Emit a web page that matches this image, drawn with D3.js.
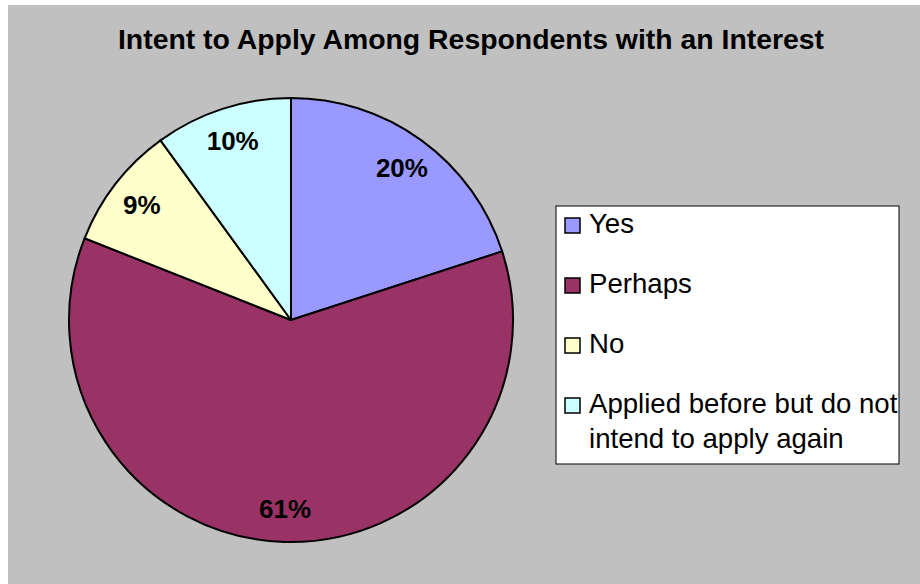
<!DOCTYPE html>
<html>
<head>
<meta charset="utf-8">
<script src="https://cdn.jsdelivr.net/npm/d3@7"></script>
<style>
  html, body { margin: 0; padding: 0; background: #ffffff; }
  svg { display: block; }
  text { font-family: "Liberation Sans", Arial, sans-serif; }
</style>
</head>
<body>
<svg id="chart" width="920" height="584"></svg>
<script>
const title = "Intent to Apply Among Respondents with an Interest";
const categories = ["Yes", "Perhaps", "No", "Applied before but do not intend to apply again"];
const legendLines = [["Yes"], ["Perhaps"], ["No"], ["Applied before but do not", "intend to apply again"]];
const values = [20, 61, 9, 10];
const colors = ["#9999FF", "#993366", "#FFFFCC", "#CCFFFF"];

const W = 920, H = 584;
const svg = d3.select("#chart");

// chart area background
svg.append("rect").attr("x", 8).attr("y", 5).attr("width", W - 8).attr("height", H - 5)
  .attr("fill", "#C0C0C0");

// title
svg.append("text").attr("x", 471).attr("y", 49).attr("text-anchor", "middle")
  .attr("font-size", 28.4).attr("font-weight", "bold").attr("fill", "#000")
  .text(title);

// pie
const cx = 291, cy = 320, R = 222;
const pie = d3.pie().sort(null).value(d => d)(values);
const arc = d3.arc().innerRadius(0).outerRadius(R);
const labelArc = d3.arc().innerRadius(R * 0.85).outerRadius(R * 0.85);
const total = d3.sum(values);

const g = svg.append("g").attr("transform", `translate(${cx},${cy})`);
g.selectAll("path.slice").data(pie).enter().append("path")
  .attr("class", "slice")
  .attr("d", arc)
  .attr("fill", (d, i) => colors[i])
  .attr("stroke", "#000").attr("stroke-width", 2).attr("stroke-linejoin", "round");

g.selectAll("text.lbl").data(pie).enter().append("text")
  .attr("class", "lbl")
  .attr("transform", d => `translate(${labelArc.centroid(d)})`)
  .attr("text-anchor", "middle").attr("dy", "0.36em")
  .attr("font-size", 26).attr("font-weight", "bold").attr("fill", "#000")
  .text(d => Math.round(d.data / total * 100) + "%");

// legend
const lx = 556, ly = 206, lw = 343, lh = 258;
svg.append("rect").attr("x", lx).attr("y", ly).attr("width", lw).attr("height", lh)
  .attr("fill", "#fff").attr("stroke", "#000").attr("stroke-width", 1);

const rowBase = d3.scalePoint().domain(d3.range(categories.length)).range([233, 413]);
const lg = svg.append("g");
categories.forEach((c, i) => {
  const b = rowBase(i);
  lg.append("rect").attr("x", 565).attr("y", b - 15).attr("width", 15).attr("height", 15)
    .attr("fill", colors[i]).attr("stroke", "#000").attr("stroke-width", 1.5);
  const t = lg.append("text").attr("x", 589).attr("y", b)
    .attr("font-size", 27.6).attr("fill", "#000");
  legendLines[i].forEach((ln, j) => {
    t.append("tspan").attr("x", 589).attr("y", b + j * 35).text(ln);
  });
});
</script>
</body>
</html>
